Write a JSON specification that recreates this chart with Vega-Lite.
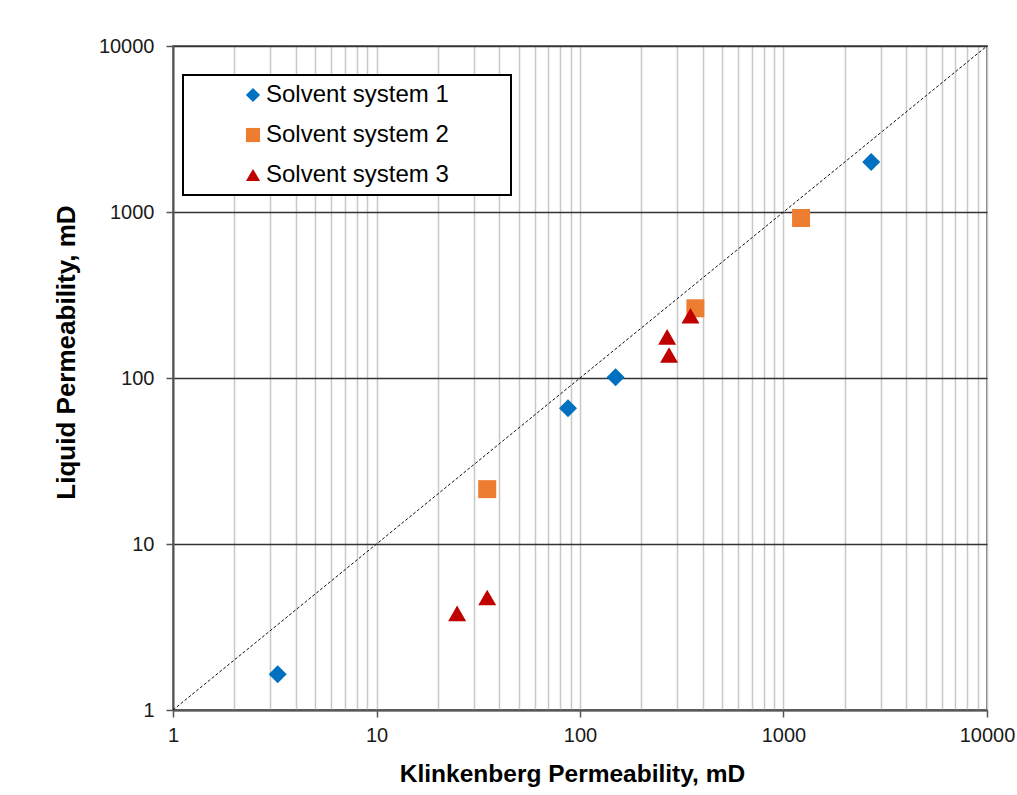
{
  "$schema": "https://vega.github.io/schema/vega-lite/v6.json",
  "width": 814,
  "height": 664,
  "autosize": {"type": "none"},
  "padding": {"left": 173, "top": 46, "right": 30, "bottom": 85},
  "background": "white",
  "config": {
    "font": "Liberation Sans",
    "view": {"stroke": "#7a7a7a", "strokeWidth": 2},
    "legend": {"strokeWidth": 2}
  },
  "encoding": {
    "x": {
      "field": "kp",
      "type": "quantitative",
      "scale": {"type": "log", "domain": [1, 10000], "nice": false},
      "axis": {
        "title": "Klinkenberg Permeability, mD",
        "values": [1,2,3,4,5,6,7,8,9,10,20,30,40,50,60,70,80,90,100,200,300,400,500,600,700,800,900,1000,2000,3000,4000,5000,6000,7000,8000,9000,10000],
        "format": "d",
        "labelExpr": "indexof([1,10,100,1000,10000], datum.value) >= 0 ? datum.label : ''",
        "tickOpacity": {"condition": {"test": "indexof([1,10,100,1000,10000], datum.value) >= 0", "value": 1}, "value": 0},
        "grid": true,
        "gridColor": "#c8c8c8",
        "gridWidth": 1.5,
        "domainColor": "#555555",
        "domainWidth": 2,
        "tickColor": "#555555",
        "tickSize": 7,
        "tickWidth": 1.5,
        "labelFontSize": 20,
        "labelColor": "#1a1a1a",
        "labelPadding": 8,
        "labelOverlap": false,
        "labelFlush": false,
        "titleFontSize": 24.5,
        "titleFontWeight": "bold",
        "titleColor": "black",
        "titlePadding": 17,
        "titleX": 399
      }
    },
    "y": {
      "field": "lp",
      "type": "quantitative",
      "scale": {"type": "log", "domain": [1, 10000], "nice": false},
      "axis": {
        "title": "Liquid Permeability, mD",
        "values": [1, 10, 100, 1000, 10000],
        "format": "d",
        "grid": true,
        "gridColor": "#333333",
        "gridWidth": 1.5,
        "domainColor": "#555555",
        "domainWidth": 2,
        "tickColor": "#555555",
        "tickSize": 7,
        "tickWidth": 1.5,
        "labelFontSize": 20,
        "labelColor": "#1a1a1a",
        "labelPadding": 12,
        "labelOverlap": false,
        "labelFlush": false,
        "titleFontSize": 26,
        "titleFontWeight": "bold",
        "titleColor": "black",
        "titlePadding": 19,
        "titleY": 306
      }
    }
  },
  "layer": [
    {
      "data": {"values": [{"kp": 1, "lp": 1}, {"kp": 10000, "lp": 10000}]},
      "mark": {"type": "line", "color": "#111111", "strokeWidth": 1, "strokeDash": [3, 2]},
      "encoding": {}
    },
    {
      "data": {
        "values": [
          {"series": "Solvent system 1", "kp": 3.27, "lp": 1.64},
          {"series": "Solvent system 1", "kp": 87.3, "lp": 65.8},
          {"series": "Solvent system 1", "kp": 149.5, "lp": 101},
          {"series": "Solvent system 1", "kp": 2697, "lp": 2000},
          {"series": "Solvent system 2", "kp": 35, "lp": 21.4},
          {"series": "Solvent system 2", "kp": 369, "lp": 263},
          {"series": "Solvent system 2", "kp": 1220, "lp": 920},
          {"series": "Solvent system 3", "kp": 24.9, "lp": 3.82},
          {"series": "Solvent system 3", "kp": 35, "lp": 4.76},
          {"series": "Solvent system 3", "kp": 268, "lp": 177},
          {"series": "Solvent system 3", "kp": 274, "lp": 137.6},
          {"series": "Solvent system 3", "kp": 349, "lp": 237}
        ]
      },
      "mark": {"type": "point", "filled": true, "opacity": 1, "size": 324},
      "encoding": {
        "color": {
          "field": "series",
          "type": "nominal",
          "scale": {"domain": ["Solvent system 1", "Solvent system 2", "Solvent system 3"], "range": ["#0070C0", "#ED7D31", "#C00000"]},
          "legend": {
            "orient": "none",
            "legendX": 10,
            "legendY": 29,
            "title": null,
            "fillColor": "white",
            "strokeColor": "black",
            "padding": 8,
            "labelFontSize": 24,
            "labelColor": "black",
            "labelLimit": 500,
            "symbolSize": 200,
            "symbolOffset": 50,
            "labelOffset": 1,
            "rowPadding": 16,
            "symbolStrokeWidth": 0,
            "symbolOpacity": 1,
            "labelExpr": "datum.label + '\u2800\u2800\u2800'"
          }
        },
        "shape": {
          "field": "series",
          "type": "nominal",
          "scale": {"domain": ["Solvent system 1", "Solvent system 2", "Solvent system 3"], "range": ["diamond", "square", "triangle-up"]},
          "legend": {
            "orient": "none",
            "legendX": 10,
            "legendY": 29,
            "title": null,
            "fillColor": "white",
            "strokeColor": "black",
            "padding": 8,
            "labelFontSize": 24,
            "labelColor": "black",
            "labelLimit": 500,
            "symbolSize": 200,
            "symbolOffset": 50,
            "labelOffset": 1,
            "rowPadding": 16,
            "symbolStrokeWidth": 0,
            "symbolOpacity": 1,
            "labelExpr": "datum.label + '\u2800\u2800\u2800'"
          }
        }
      }
    }
  ]
}
